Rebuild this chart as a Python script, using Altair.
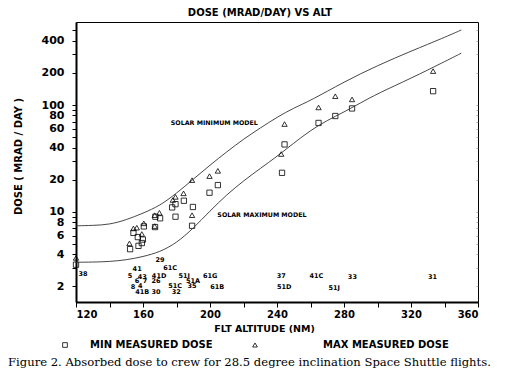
import altair as alt
import pandas as pd

# ---------------- data ----------------
# Minimum measured dose (squares)
min_alt = [120, 152.3, 154.3, 157.3, 156.9, 159.3, 159.9, 160.5, 167.2, 167.4, 170.2,
           177.4, 179.4, 179.4, 184.4, 189.8, 189.3, 199.7, 204.7, 244.5, 243.0,
           264.8, 274.8, 284.8, 333.2]
min_dose = [3.2, 4.47, 6.35, 4.8, 5.8, 5.1, 5.5, 7.3, 7.2, 9.0, 8.7,
            11.0, 11.8, 9.0, 12.7, 11.1, 7.4, 15.1, 17.8, 42.8, 23.2,
            68, 79, 93, 135]

# Maximum measured dose (triangles)
max_alt = [120, 151.9, 154.3, 156.3, 159.3, 160.5, 167.0, 169.8, 167.0, 179.4, 177.8,
           184.2, 189.3, 189.3, 199.7, 204.7, 244.5, 242.5, 264.8, 274.8, 284.8, 333.2]
max_dose = [3.7, 5.06, 6.99, 7.1, 6.2, 7.8, 9.3, 9.8, 7.35, 13.8, 12.9,
            14.9, 19.8, 9.3, 21.6, 24.2, 66.4, 34.8, 95, 121, 113, 208]

# Model curves
solmin_alt = [120, 130, 140, 150, 160, 170, 180, 190, 200, 210, 220, 230, 240, 250, 260,
              280, 300, 320, 340, 350]
solmin_dose = [7.4, 7.45, 7.6, 8.4, 9.7, 11.4, 14.9, 20.2, 27.4, 36.5, 48, 61, 77, 94, 110,
               165, 235, 320, 430, 505]
solmax_alt = [120, 130, 140, 150, 160, 170, 180, 190, 200, 210, 220, 230, 240, 250, 260,
              270, 280, 290, 300, 320, 340, 350]
solmax_dose = [3.37, 3.38, 3.42, 3.54, 3.8, 4.2, 5.1, 7.0, 10.2, 14.5, 19.5, 25.5, 33, 44, 58,
               72, 86, 105, 128, 178, 255, 306]

# Flight labels (name, altitude, dose level where the label sits)
flight_names = ["38", "29", "41", "61C", "5", "43", "41D", "51I", "61G", "6", "7", "26",
                "51A", "8", "4", "51C", "35", "61B", "41B", "30", "32", "37", "41C",
                "33", "31", "51D", "51J"]
flight_alt = [124.2, 170.2, 156.5, 176.2, 152.3, 159.5, 169.6, 184.6, 200.1, 156.5, 161.2,
              167.8, 189.9, 154.1, 158.3, 179.2, 189.3, 204.3, 159.5, 167.8, 179.8,
              242.5, 263.5, 285.0, 332.8, 244.3, 274.2]
flight_lvl = [2.61, 3.52, 2.90, 2.97, 2.50, 2.44, 2.50, 2.50, 2.50, 2.24, 2.24,
              2.24, 2.24, 1.97, 2.01, 2.01, 2.01, 1.97, 1.77, 1.77, 1.77,
              2.50, 2.50, 2.44, 2.44, 1.97, 1.93]

model_names = ["SOLAR MINIMUM MODEL", "SOLAR MAXIMUM MODEL"]
model_lbl_alt = [202.6, 231.0]
model_lbl_lvl = [68, 9.3]

series_min = ["MIN MEASURED DOSE"]
series_max = ["MAX MEASURED DOSE"]
y_ticks = [2, 3, 4, 5, 6, 7, 8, 9, 10, 20, 30, 40, 50, 60, 70, 80, 90, 100, 200, 300, 400, 500]
y_labels = [2, 4, 6, 8, 10, 20, 40, 60, 80, 100, 200, 400]
x_ticks = list(range(120, 361, 20))

caption = "Figure 2. Absorbed dose to crew for 28.5 degree inclination Space Shuttle flights."

# ---------------- tables ----------------
pts_min = pd.DataFrame({"alt": min_alt, "dose": min_dose, "smin": series_min[0]})
pts_max = pd.DataFrame({"alt": max_alt, "dose": max_dose, "smax": series_max[0]})
models = pd.concat([
    pd.DataFrame({"alt": solmin_alt, "dose": solmin_dose, "model": "min"}),
    pd.DataFrame({"alt": solmax_alt, "dose": solmax_dose, "model": "max"}),
])
flights = pd.DataFrame({"alt": flight_alt, "dose": flight_lvl, "name": flight_names})
mlabels = pd.DataFrame({"alt": model_lbl_alt, "dose": model_lbl_lvl, "name": model_names})

FONT = "DejaVu Sans"
W, H = 402, 280

x_enc = alt.X("alt:Q", scale=alt.Scale(domain=[120, 360], nice=False, zero=False),
              axis=alt.Axis(values=x_ticks,
                            labelExpr="datum.value % 40 == 0 ? format(datum.value, 'd') : ''",
                            title="FLT ALTITUDE (NM)", grid=False, labelOverlap=False,
                            tickSize=5, labelPadding=2, domainWidth=2,
                            labelFont=FONT, labelFontWeight="bold", labelFontSize=10,
                            titleFont=FONT, titleFontWeight="bold", titleFontSize=9.5,
                            titleX=188, titleY=26, titleBaseline="middle"))
y_scale = alt.Scale(type="log", domain=[1.43, 600], nice=False)
y_main = alt.Y("dose:Q", scale=y_scale,
               axis=alt.Axis(orient="left", values=y_ticks,
                             labelExpr="indexof(" + str(y_labels) + ", datum.value) >= 0 ? format(datum.value, 'd') : ''",
                             title="DOSE ( MRAD / DAY )", grid=False, labelOverlap=False,
                             tickSize=4, labelPadding=8, domainWidth=2,
                             labelFont=FONT, labelFontWeight="bold", labelFontSize=11,
                             titleFont=FONT, titleFontWeight="bold", titleFontSize=10,
                             titleX=-58, titleY=134, titleBaseline="middle"))
y_plain = alt.Y("dose:Q", scale=y_scale, axis=None)
# faint inner ticks along the right frame edge
y_right = alt.Y("dose:Q", scale=y_scale,
                axis=alt.Axis(orient="left", offset=-W, values=y_ticks, labels=False, domain=False,
                              grid=False, title=None, tickSize=2, tickWidth=0.6, tickColor="#777"))

lines = alt.Chart(models).mark_line(color="#333", strokeWidth=0.9, interpolate="basis").encode(
    x=x_enc, y=y_right, detail="model:N")

leg_common = dict(title=None, orient="none", legendY=318, symbolSize=22, symbolStrokeWidth=0.8,
                  symbolStrokeColor="black", labelFont=FONT, labelFontWeight="bold",
                  labelFontSize=10, labelColor="black")

squares = alt.Chart(pts_min).mark_point(shape="square", filled=False, strokeWidth=0.8, size=28,
                                        opacity=1).encode(
    x=x_enc, y=y_main,
    color=alt.Color("smin:N", scale=alt.Scale(domain=series_min, range=["black"]),
                    legend=alt.Legend(legendX=-16, labelOffset=20, symbolType="square", **leg_common)))

triangles = alt.Chart(pts_max).mark_point(shape="triangle-up", filled=False, strokeWidth=0.8, size=28,
                                          opacity=1).encode(
    x=x_enc, y=y_plain,
    stroke=alt.Stroke("smax:N", scale=alt.Scale(domain=series_max, range=["black"]),
                      legend=alt.Legend(legendX=174, labelOffset=63, symbolType="triangle-up", **leg_common)))

flight_txt = alt.Chart(flights).mark_text(font=FONT, fontSize=6.5, fontWeight="bold", color="black").encode(
    x=x_enc, y=y_plain, text="name:N")

model_txt = alt.Chart(mlabels).mark_text(font=FONT, fontSize=6.3, fontWeight="bold", color="black").encode(
    x=x_enc, y=y_plain, text="name:N")

cap = alt.Chart(pd.DataFrame({"t": [caption]})).mark_text(
    font="DejaVu Serif", fontSize=11.6, align="left", baseline="alphabetic", color="black").encode(
    x=alt.value(-68), y=alt.value(344), text="t:N")

chart = alt.layer(squares, lines, triangles, flight_txt, model_txt, cap).resolve_scale(
    color="independent", stroke="independent").resolve_axis(y="independent").properties(
    width=W, height=H,
    autosize=alt.AutoSizeParams(type="none"),
    padding={"left": 68, "top": 14, "right": 20, "bottom": 67},
    title=alt.TitleParams("DOSE (MRAD/DAY) VS ALT", font=FONT, fontSize=10, fontWeight="bold",
                          anchor="middle", dx=-17, offset=4, color="black"),
).configure_view(stroke="black", strokeWidth=1).configure_axis(
    domainColor="black", tickColor="black", labelColor="black", titleColor="black")

chart.save("out.html", embed_options={"renderer": "svg", "actions": False})
